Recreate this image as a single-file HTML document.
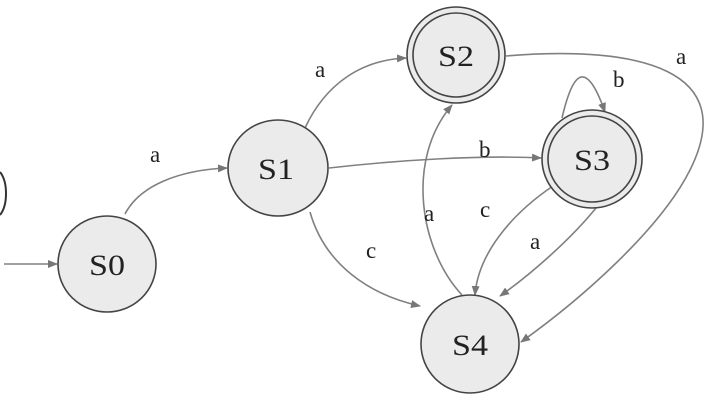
<!DOCTYPE html>
<html><head><style>body{margin:0;background:#fff}svg{display:block}</style></head><body>
<svg width="722" height="402" viewBox="0 0 722 402" xmlns="http://www.w3.org/2000/svg">
<defs><marker id="ar" markerWidth="10" markerHeight="8" refX="9" refY="4" orient="auto" markerUnits="userSpaceOnUse"><path d="M0,0 L10,4 L0,8 z" fill="#777"/></marker></defs>
<g fill="none" stroke="#808080" stroke-width="1.6" marker-end="url(#ar)">
<path d="M4,264 L57,264"/>
<path d="M125,214 C140,185 180,170 227,168"/>
<path d="M305,128 C325,85 360,60 406,58"/>
<path d="M329,168 C400,160 480,155 541,158"/>
<path d="M310,212 C325,265 370,295 420,306"/>
<path d="M462,295 C420,250 405,160 452,105"/>
<path d="M553,186 C510,215 478,255 475,295"/>
<path d="M596,208 C570,240 530,275 500,296"/>
<path d="M506,56 C640,45 740,70 690,170 C660,230 580,300 521,342"/>
<path d="M562,118 C572,75 585,55 605,112"/>
</g>
<g font-family="Liberation Serif, serif" font-size="23" fill="#222">
<text x="150" y="162">a</text>
<text x="315" y="77">a</text>
<text x="479" y="157">b</text>
<text x="366" y="258">c</text>
<text x="424" y="221">a</text>
<text x="480" y="217">c</text>
<text x="530" y="249">a</text>
<text x="676" y="64">a</text>
<text x="613" y="87">b</text>
</g>
<path d="M0,172 C8,182 8,205 0,215" fill="none" stroke="#333" stroke-width="2"/>
<g fill="#ebebeb" stroke="#444" stroke-width="1.6">
<ellipse cx="107" cy="264" rx="49" ry="48"/>
<ellipse cx="278" cy="168" rx="50" ry="48"/>
<ellipse cx="456" cy="55" rx="49" ry="48"/>
<ellipse cx="456" cy="55" rx="43" ry="42" fill="none"/>
<ellipse cx="592" cy="159" rx="50" ry="49"/>
<ellipse cx="592" cy="159" rx="44" ry="43" fill="none"/>
<ellipse cx="470" cy="344" rx="49" ry="49"/>
</g>
<g font-family="Liberation Serif, serif" font-size="30" fill="#222" text-anchor="middle">
<text x="107" y="275" textLength="36" lengthAdjust="spacingAndGlyphs">S0</text>
<text x="276" y="179" textLength="36" lengthAdjust="spacingAndGlyphs">S1</text>
<text x="456" y="66" textLength="36" lengthAdjust="spacingAndGlyphs">S2</text>
<text x="592" y="170" textLength="36" lengthAdjust="spacingAndGlyphs">S3</text>
<text x="470" y="355" textLength="36" lengthAdjust="spacingAndGlyphs">S4</text>
</g>
</svg>
</body></html>
